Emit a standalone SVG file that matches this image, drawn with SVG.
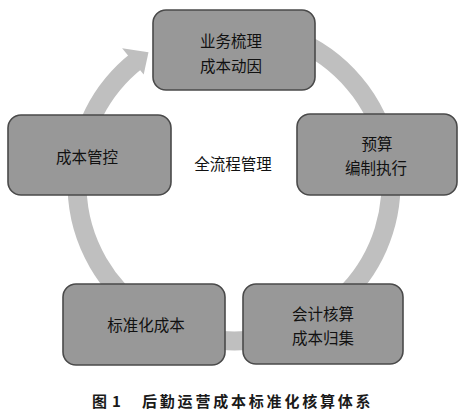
<svg xmlns="http://www.w3.org/2000/svg" width="472" height="418" viewBox="0 0 472 418">
<style>
.box{fill:#989898;stroke:#4a4a4a;stroke-width:1.6}
.t{font-family:"Noto Sans CJK SC","Noto Sans",sans-serif;font-size:15.5px;fill:#111;text-anchor:middle;dominant-baseline:central}
.cap{font-family:"Noto Sans CJK SC","Noto Sans",sans-serif;font-size:15px;font-weight:bold;fill:#1a1a1a;dominant-baseline:central}
</style>
<rect width="472" height="418" fill="#fff"/>
<g id="connectors">
<path d="M234 27 A157 157 0 1 1 137.3 60.3" fill="none" stroke="#bfbfbf" stroke-width="19"/>
<polygon points="122.1,48.2 148.5,52.3 143.7,74.4" fill="#bfbfbf"/>
</g>
<g id="n-top">
<rect class="box" x="153" y="10" width="162" height="80" rx="13"/>
<text class="t" x="231" y="40">业务梳理</text>
<text class="t" x="231" y="65">成本动因</text>
</g>
<g id="n-left">
<rect class="box" x="8" y="115" width="163" height="80" rx="13"/>
<text class="t" x="87" y="156">成本管控</text>
</g>
<g id="n-right">
<rect class="box" x="297" y="114" width="160" height="81" rx="13"/>
<text class="t" x="377" y="143">预算</text>
<text class="t" x="376" y="167">编制执行</text>
</g>
<g id="n-bl">
<rect class="box" x="63" y="284" width="162" height="81" rx="13"/>
<text class="t" x="146" y="324">标准化成本</text>
</g>
<g id="n-br">
<rect class="box" x="243" y="284" width="160" height="80" rx="13"/>
<text class="t" x="323" y="313">会计核算</text>
<text class="t" x="323" y="337">成本归集</text>
</g>
<g id="center">
<text class="t" x="233" y="163">全流程管理</text>
</g>
<g id="caption">
<text class="cap" x="92" y="400">图</text>
<text class="cap" x="112" y="400">1</text>
<text class="cap" x="142" y="400" letter-spacing="2.8">后勤运营成本标准化核算体系</text>
</g>
</svg>
